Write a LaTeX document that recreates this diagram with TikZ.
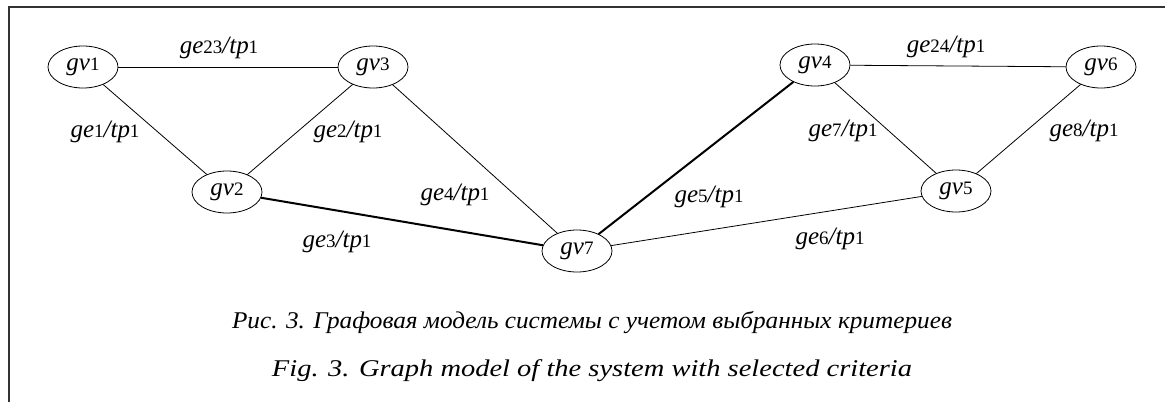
\documentclass[tikz,border=0pt]{standalone}
\usepackage{fontspec}
\setmainfont{Liberation Serif}
\usetikzlibrary{shapes.geometric}
\newcommand\dg[1]{{\fontsize{19}{20}\selectfont\upshape #1}}
\newcommand\lab[3]{\textit{#1}\dg{#2}\textit{/tp}\dg{#3}}
\tikzset{
  vnode/.style={draw, ellipse, line width=0.8pt, minimum width=70pt, minimum height=42pt, inner sep=0pt, font=\fontsize{25}{27}\selectfont},
  elabel/.style={font=\fontsize{25}{27}\selectfont, inner sep=0pt},
  thinedge/.style={line width=0.8pt},
  thickedge/.style={line width=2pt},
  frameline/.style={line width=2pt, black!80},
  caption/.style={font=\fontsize{24}{26}\selectfont\itshape, inner sep=0pt}
}
\begin{document}
\begin{tikzpicture}[x=1pt,y=-1pt]
\useasboundingbox (0,0) rectangle (1165,402);
\draw[frameline] (9,402) -- (9,7) -- (1165,7);
\node[vnode] (v1) at (83,67) {\textit{gv}\dg{1}};
\node[vnode] (v3) at (373,67) {\textit{gv}\dg{3}};
\node[vnode] (v2) at (227,192) {\textit{gv}\dg{2}};
\node[vnode] (v7) at (577,251) {\textit{gv}\dg{7}};
\node[vnode] (v4) at (815,65) {\textit{gv}\dg{4}};
\node[vnode] (v6) at (1101,67) {\textit{gv}\dg{6}};
\node[vnode] (v5) at (956,191) {\textit{gv}\dg{5}};
\draw[thinedge] (v1) -- (v3);
\draw[thinedge] (v1) -- (v2);
\draw[thinedge] (v3) -- (v2);
\draw[thinedge] (v3) -- (v7);
\draw[thickedge] (v2) -- (v7);
\draw[thickedge] (v7) -- (v4);
\draw[thinedge] (v7) -- (v5);
\draw[thinedge] (v4) -- (v6);
\draw[thinedge] (v4) -- (v5);
\draw[thinedge] (v6) -- (v5);
\node[elabel] (l23) at (219,48) {\lab{ge}{23}{1}};
\node[elabel] (l1) at (105,132) {\lab{ge}{1}{1}};
\node[elabel] (l2) at (348,132) {\lab{ge}{2}{1}};
\node[elabel] (l4) at (455,195) {\lab{ge}{4}{1}};
\node[elabel] (l3) at (337,242) {\lab{ge}{3}{1}};
\node[elabel] (l5) at (709,197) {\lab{ge}{5}{1}};
\node[elabel] (l6) at (830,239) {\lab{ge}{6}{1}};
\node[elabel] (l7) at (843,131) {\lab{ge}{7}{1}};
\node[elabel] (l8) at (1084,131) {\lab{ge}{8}{1}};
\node[elabel] (l24) at (946,47) {\lab{ge}{24}{1}};
\node[caption] (c1) at (592,322) {\resizebox{720pt}{\height}{Рис. 3. Графовая модель системы с учетом выбранных критериев}};
\node[caption] (c2) at (592,371) {\resizebox{640pt}{\height}{Fig. 3. Graph model of the system with selected criteria}};
\end{tikzpicture}
\end{document}
